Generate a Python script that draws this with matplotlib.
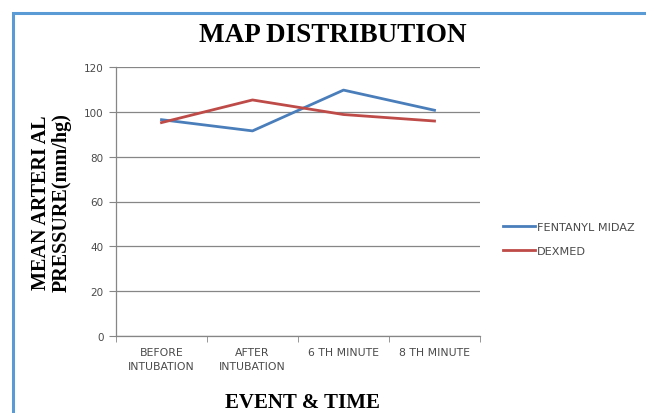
import matplotlib.pyplot as plt
from matplotlib.patches import Rectangle

events = ['BEFORE\nINTUBATION', 'AFTER\nINTUBATION', '6 TH MINUTE', '8 TH MINUTE']
fentanyl_midaz = [96.5, 91.5, 109.7, 100.7]
dexmed = [95.2, 105.3, 98.8, 95.9]
yticks = [0, 20, 40, 60, 80, 100, 120]

serif = 'Liberation Serif'
tick_font = 'DejaVu Sans'
grey = '#868686'
label_grey = '#4a4a4a'

fig = plt.figure(figsize=(6.46, 4.14), dpi=100)
ax = fig.add_axes([116 / 646, 1 - 337 / 414, 364 / 646, 269 / 414])

x = range(len(events))
ax.plot(x, fentanyl_midaz, color='#4a7ebb', lw=2.0, label='FENTANYL MIDAZ')
ax.plot(x, dexmed, color='#be4b48', lw=2.0, label='DEXMED')

ax.set_xlim(-0.5, len(events) - 0.5)
ax.set_ylim(0, 120)
ax.set_yticks(yticks)
ax.set_xticks(x)
ax.set_xticklabels(events, fontsize=7.8, family=tick_font, color=label_grey, linespacing=1.45)
ax.set_xticks([i + 0.5 for i in range(-1, len(events))], minor=True)
ax.tick_params(axis='x', which='major', length=0, pad=8)
ax.tick_params(axis='x', which='minor', length=4, color=grey, direction='out')
ax.tick_params(axis='y', length=5, color=grey, labelsize=7.5, labelcolor=label_grey, pad=4)
for lab in ax.get_yticklabels():
    lab.set_family(tick_font)

ax.grid(axis='y', color=grey, lw=0.9)
ax.set_axisbelow(True)
for side in ['top', 'right']:
    ax.spines[side].set_visible(False)
for side in ['left', 'bottom']:
    ax.spines[side].set_color(grey)
    ax.spines[side].set_linewidth(0.9)

fig.text(333 / 646, 1 - 36 / 414, 'MAP DISTRIBUTION', family=serif, weight='bold',
         fontsize=19.5, ha='center', va='center')
fig.text(302 / 646, 1 - 403 / 414, 'EVENT & TIME', family=serif, weight='bold',
         fontsize=15, ha='center', va='center')
fig.text(51 / 646, 1 - 203 / 414, 'MEAN ARTERI AL\nPRESSURE(mm/hg)', family=serif,
         weight='bold', fontsize=14.5, rotation=90, ha='center', va='center',
         linespacing=1.05)

ax.legend(loc='center left', bbox_to_anchor=(493 / 646, 1 - 240 / 414),
          bbox_transform=fig.transFigure, frameon=False, handlelength=2.8,
          handletextpad=0.2, labelspacing=1.3,
          prop={'family': tick_font, 'size': 8.1})
for t in ax.get_legend().get_texts():
    t.set_color(label_grey)

# outer chart frame, only the top and left edges fall inside the image
fig.patches.append(Rectangle((13.5 / 646, -0.2), 1.2, 1 - 13.5 / 414 + 0.2,
                             transform=fig.transFigure, fill=False,
                             edgecolor='#5b9bd5', lw=2.2))

fig.savefig('out.png', dpi=100)
